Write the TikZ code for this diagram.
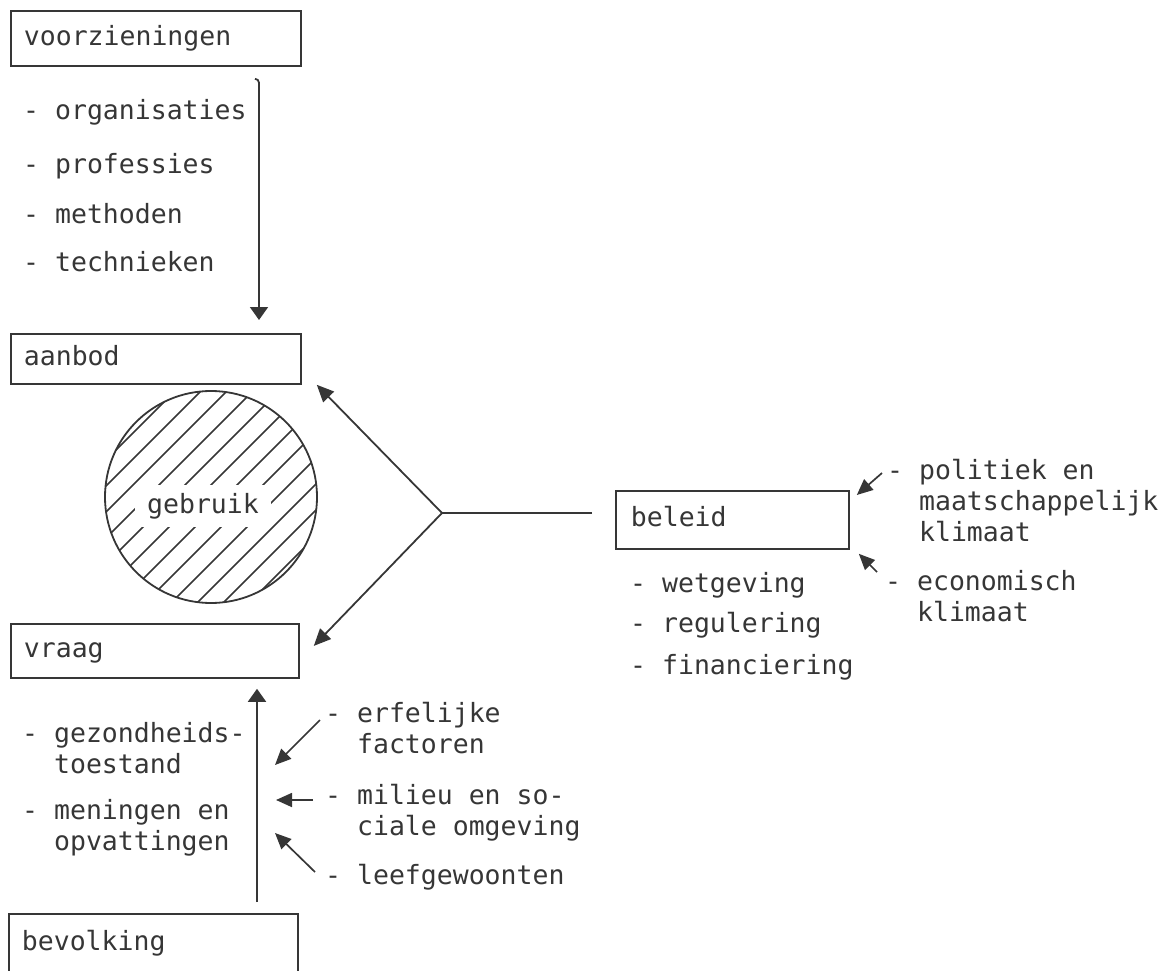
\documentclass[tikz,border=0pt]{standalone}
\usepackage{fontspec}
\newfontfamily\tw{DejaVu Sans Mono}
\usetikzlibrary{arrows.meta,calc}
\definecolor{ink}{HTML}{363636}
\begin{document}
\begin{tikzpicture}[x=1pt,y=-1pt,
  every node/.style={font=\tw\fontsize{26.5}{31}\selectfont, text=ink},
  box/.style={draw=ink, line width=1.8pt, rectangle, anchor=north west,
    inner xsep=13pt, inner ysep=0pt, text height=20pt, text depth=6pt, align=left},
  item/.style={anchor=north west, inner sep=0pt, align=left},
  ln/.style={draw=ink, line width=1.8pt},
  varr/.style={ln, -{Triangle[length=13pt,width=18pt]}},
  arr/.style={ln, -{Triangle[length=17pt,width=15pt]}},
  sarr/.style={ln, line width=1.7pt, -{Triangle[length=16pt,width=14pt]}}
]
\useasboundingbox (0,0) rectangle (1162,971);

% boxes
\node[box, text width=264pt, minimum height=55pt] (voorz) at (10,10) {voorzieningen};
\node[box, text width=264pt, minimum height=50pt] (aanbod) at (10,333) {aanbod};
\node[box, text width=262pt, minimum height=54pt] (vraag) at (10,623) {vraag};
\node[box, inner xsep=15pt, text width=203pt, minimum height=58pt] (beleid) at (615,490) {beleid};
\node[box, text width=263pt, minimum height=60pt] (bevolking) at (8,913) {bevolking};

% lists
\node[item] (org)  at (23,97.5)  {\strut- organisaties};
\node[item] (prof) at (23,151.5) {\strut- professies};
\node[item] (meth) at (23,201.5) {\strut- methoden};
\node[item] (tech) at (23,249.5) {\strut- technieken};

\node[item] (wet) at (630,570.5) {\strut- wetgeving};
\node[item] (reg) at (630,610.5) {\strut- regulering};
\node[item] (fin) at (630,652.5) {\strut- financiering};

\node[item] (pol) at (887,457.5) {\strut- politiek en\\\hphantom{- }maatschappelijk\\\hphantom{- }klimaat};
\node[item] (eco) at (885,568.5) {\strut- economisch\\\hphantom{- }klimaat};

\node[item] (gez) at (22,720.5) {\strut- gezondheids-\\\hphantom{- }toestand};
\node[item] (men) at (22,797.5) {\strut- meningen en\\\hphantom{- }opvattingen};

\node[item] (erf)  at (325,700.5) {\strut- erfelijke\\\hphantom{- }factoren};
\node[item] (mil)  at (325,782.5) {\strut- milieu en so-\\\hphantom{- }ciale omgeving};
\node[item] (leef) at (325,862.5) {\strut- leefgewoonten};

% circle with hatching
\coordinate (cc) at (211,497);
\begin{scope}
  \clip (cc) circle[radius=106];
  \foreach \c in {540,566,...,900}
    \draw[ink, line width=1.5pt] (90,\c-90) -- (340,\c-340);
\end{scope}
\draw[ink, line width=1.8pt] (cc) circle[radius=106];
\node[fill=white, inner xsep=12pt, inner ysep=8pt, text height=20pt, text depth=6pt] (gebruik) at (203,506) {gebruik};

% vertical arrows
\coordinate (c1) at (259,0);
\coordinate (c2) at (257,0);
\draw[varr] ($(voorz.south -| c1)+(-4,12)$) to[out=0,in=90] ($(voorz.south -| c1)+(0,16)$) -- ($(aanbod.north -| c1)+(0,-13)$);
\draw[varr] ($(bevolking.north -| c2)+(0,-11)$) -- ($(vraag.south -| c2)+(0,10)$);

% beleid junction
\coordinate (j) at (442,513);
\draw[ln] (beleid.west |- j) ++(-23,0) -- (j);
\draw[arr] (j) -- ($(aanbod.south east)+(15,0)$);
\draw[arr] (j) -- ($(vraag.east)+(14,-5)$);

% small arrows
\draw[sarr] ($(pol.north west)+(-5,15.5)$) -- ($(beleid.north east)+(7,5)$);
\draw[sarr] ($(eco.north west)+(-8,3.5)$) -- ($(beleid.south east)+(9,4)$);
\draw[sarr] ($(erf.north west)+(-5,19.5)$) -- ($(erf.north west)+(-50,64.5)$);
\draw[sarr] ($(mil.north west)+(-12,17.5)$) -- ($(mil.north west)+(-49,17.5)$);
\draw[sarr] ($(leef.north west)+(-10,9.5)$) -- ($(leef.north west)+(-50,-29.5)$);
\end{tikzpicture}
\end{document}
